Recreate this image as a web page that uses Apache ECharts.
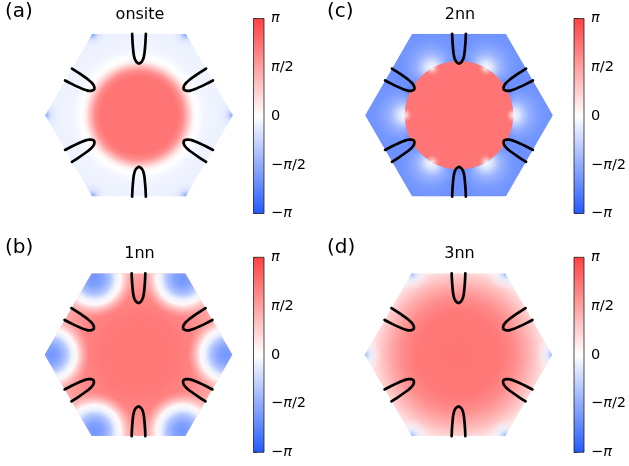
<!DOCTYPE html>
<html><head><meta charset="utf-8">
<script src="https://cdn.jsdelivr.net/npm/echarts@6/dist/echarts.min.js"></script>
<style>html,body{margin:0;padding:0;background:#fff}#c{width:629px;height:466px}</style>
</head><body><div id="c"></div>
<script>
// ================= DATA =================
const panelLabels = ['(a)', '(b)', '(c)', '(d)'];
const panelTitles = ['onsite', '1nn', '2nn', '3nn'];
const tickLabels = ['−π', '−π/2', '0', 'π/2', 'π'];
const tickValues = [-1, -0.5, 0, 0.5, 1];            // phase / π

// phase (units of π) vs distance from Γ (units of |ΓK|): [r, phase]
const radialOnsite = [[0, 0.73], [0.41, 0.72], [0.47, 0.60], [0.52, 0.34], [0.57, 0.08], [0.61, 0.0], [0.70, -0.06], [1.0, -0.10]];
const radial1nn    = [[0, 0.71], [0.40, 0.70], [0.60, 0.64], [0.80, 0.52], [0.90, 0.44], [1.0, 0.36]];
const radial2nn    = [[0, 0.72], [0.572, 0.72], [0.583, -0.84], [0.64, -0.72], [0.80, -0.67], [1.0, -0.65]];
const radial3nn    = [[0, 0.73], [0.45, 0.70], [0.60, 0.60], [0.72, 0.45], [0.82, 0.30], [0.90, 0.17], [1.0, 0.02]];

// phase near the K corners vs distance from the spot centre: [d, phase, opacity]
const cornerOnsite = [[0, -0.62, 1], [0.03, -0.38, 1], [0.07, -0.18, 0.8], [0.16, -0.10, 0]];
const corner1nn    = [[0, -0.64, 1], [0.09, -0.56, 1], [0.17, -0.36, 1], [0.23, -0.08, 1], [0.28, 0.03, 1], [0.34, 0.20, 0.6], [0.42, 0.40, 0]];
const corner3nn    = [[0, -0.52, 1], [0.025, -0.30, 1], [0.07, -0.12, 0.8], [0.18, -0.03, 0]];
const cornerShift  = [0, 0.06, 0, 0];                 // spot centre offset toward Γ

// 2nn: light rims of the central disk in the ΓK directions: [d, phase, opacity]
const rimRadius2nn = 0.577;
const rimOuter2nn = [[0, -0.02, 1], [0.07, -0.12, 0.9], [0.16, -0.30, 0.6], [0.30, -0.50, 0.25], [0.42, -0.60, 0]];
const rimInner2nn = [[0, 0.05, 1], [0.04, 0.35, 0.7], [0.09, 0.70, 0]];

// Fermi-surface pocket at each M point: depth from zone edge and half-width (units of |ΓK|)
const pocketDepth     = [0, 0.085, 0.160, 0.215, 0.250, 0.277, 0.296, 0.309, 0.316];
const pocketHalfWidth = [0.073, 0.069, 0.063, 0.057, 0.050, 0.041, 0.030, 0.016, 0];

// ================= LAYOUT =================
const R = 94;
const S3 = Math.sqrt(3) / 2;
const layout = [
  { cx: 139,   cy: 115.2, cbx: 253.5, cby: 18.5,  lx: 5,   ly: 13.5,  ty: 14.6 },
  { cx: 138.5, cy: 354.7, cbx: 253.5, cby: 257.3, lx: 5,   ly: 249.5, ty: 253.6 },
  { cx: 459,   cy: 115.2, cbx: 574,   cby: 18.5,  lx: 327, ly: 13.5,  ty: 14.6 },
  { cx: 458.5, cy: 354.7, cbx: 574,   cby: 257.3, lx: 327, ly: 249.5, ty: 253.6 }
];
const radials = [radialOnsite, radial1nn, radial2nn, radial3nn];
const corners = [cornerOnsite, corner1nn, null, corner3nn];

const cmapStops = [[-1, [35, 90, 255]], [0, [255, 255, 255]], [1, [255, 64, 64]]];
function cmap(v, a) {
  v = Math.max(-1, Math.min(1, v));
  const i = v < 0 ? 0 : 1;
  const [v0, c0] = cmapStops[i], [v1, c1] = cmapStops[i + 1];
  const t = (v - v0) / (v1 - v0);
  const c = c0.map((x, k) => Math.round(x + (c1[k] - x) * t));
  return 'rgba(' + c[0] + ',' + c[1] + ',' + c[2] + ',' + (a === undefined ? 1 : a) + ')';
}
function radialGrad(x, y, rpx, prof) {
  const maxR = prof[prof.length - 1][0];
  return {
    type: 'radial', x: x, y: y, r: rpx * maxR, global: true,
    colorStops: prof.map(s => ({ offset: s[0] / maxR, color: cmap(s[1], s[2]) }))
  };
}
const deg = Math.PI / 180;
const vertexAngles = [0, 60, 120, 180, 240, 300];
const mAngles = [90, 30, -30, -90, -150, 150];

function fieldRender(p) {
  return function (params, api) {
    const c = api.coord([0, 0]);
    const rpx = api.size([1, 0])[0];
    const children = [];
    const hex = vertexAngles.map(a => api.coord([Math.cos(a * deg), Math.sin(a * deg)]));
    children.push({ type: 'polygon', shape: { points: hex }, style: { fill: radialGrad(c[0], c[1], rpx, radials[p]) } });
    const cp = corners[p];
    if (cp) {
      const maxD = cp[cp.length - 1][0] + cornerShift[p];
      vertexAngles.forEach(a => {
        const v = api.coord([Math.cos(a * deg), Math.sin(a * deg)]);
        const s = 1 - cornerShift[p];
        const g = api.coord([s * Math.cos(a * deg), s * Math.sin(a * deg)]);
        const inward = -a * deg + Math.PI;
        children.push({
          type: 'sector',
          shape: { cx: v[0], cy: v[1], r0: 0, r: maxD * rpx, startAngle: inward - Math.PI / 3, endAngle: inward + Math.PI / 3, clockwise: true },
          style: { fill: radialGrad(g[0], g[1], rpx, cp) }
        });
      });
    }
    if (p === 2) {
      vertexAngles.forEach(a => {
        const g = api.coord([rimRadius2nn * Math.cos(a * deg), rimRadius2nn * Math.sin(a * deg)]);
        const sa = -a * deg;
        const iMax = rimInner2nn[rimInner2nn.length - 1][0];
        children.push({
          type: 'sector',
          shape: { cx: c[0], cy: c[1], r0: rimRadius2nn * rpx, r: 1.02 * rpx, startAngle: sa - 30 * deg, endAngle: sa + 30 * deg, clockwise: true },
          style: { fill: radialGrad(g[0], g[1], rpx, rimOuter2nn) }
        });
        children.push({
          type: 'sector',
          shape: { cx: c[0], cy: c[1], r0: (rimRadius2nn - iMax - 0.01) * rpx, r: rimRadius2nn * rpx, startAngle: sa - 18 * deg, endAngle: sa + 18 * deg, clockwise: true },
          style: { fill: radialGrad(g[0], g[1], rpx, rimInner2nn) }
        });
      });
    }
    return { type: 'group', children: children, clipPath: { type: 'polygon', shape: { points: hex } } };
  };
}

function pocketLine(thetaDeg) {
  const t = thetaDeg * deg;
  const n = [Math.cos(t), Math.sin(t)], l = [-Math.sin(t), Math.cos(t)];
  const pts = [];
  const side = (u, v) => [S3 * n[0] - u * n[0] + v * l[0], S3 * n[1] - u * n[1] + v * l[1]];
  for (let i = 0; i < pocketDepth.length; i++) pts.push(side(pocketDepth[i], -pocketHalfWidth[i]));
  for (let i = pocketDepth.length - 2; i >= 0; i--) pts.push(side(pocketDepth[i], pocketHalfWidth[i]));
  return pts;
}

const grids = [], xAxes = [], yAxes = [], series = [], graphics = [];
const FONT = 'DejaVu Sans';
layout.forEach((L, p) => {
  grids.push({ left: L.cx - R, top: L.cy - R * S3, width: 2 * R, height: 2 * R * S3 });
  xAxes.push({ gridIndex: 2 * p, type: 'value', min: -1, max: 1, show: false });
  yAxes.push({ gridIndex: 2 * p, type: 'value', min: -S3, max: S3, show: false });
  grids.push({ left: L.cbx, top: L.cby, width: 10.5, height: 195 });
  xAxes.push({ gridIndex: 2 * p + 1, type: 'value', min: 0, max: 1, show: false });
  yAxes.push({
    gridIndex: 2 * p + 1, type: 'value', min: -1, max: 1, interval: 0.5, position: 'right',
    axisLine: { show: false }, splitLine: { show: false },
    axisTick: { show: true, length: 3.5, lineStyle: { color: '#000', width: 0.8 } },
    axisLabel: {
      margin: 7, fontSize: 14.5, color: '#000', fontFamily: FONT,
      formatter: v => {
        const i = tickValues.indexOf(Math.round(v * 2) / 2);
        if (i < 0) return '';
        return tickLabels[i].replace(/π/g, '{i|π}').replace(/^([^{]+)/, '{n|$1}').replace(/\}([^{}]+)$/, '}{n|$1}');
      },
      rich: {
        i: { fontStyle: 'italic', fontSize: 14.5, fontFamily: FONT, color: '#000' },
        n: { fontSize: 14.5, fontFamily: FONT, color: '#000' }
      }
    }
  });
  series.push({
    type: 'custom', xAxisIndex: 2 * p, yAxisIndex: 2 * p, data: [[0, 0]],
    renderItem: fieldRender(p), silent: true, z: 1
  });
  series.push({
    type: 'custom', xAxisIndex: 2 * p + 1, yAxisIndex: 2 * p + 1, data: [[0, 0]], silent: true,
    renderItem: (params, api) => {
      const a = api.coord([0, 1]), b = api.coord([1, -1]);
      return {
        type: 'rect', shape: { x: a[0], y: a[1], width: b[0] - a[0], height: b[1] - a[1] },
        style: {
          fill: { type: 'linear', x: 0, y: 0, x2: 0, y2: 1, colorStops: cmapStops.map(s => ({ offset: (1 - s[0]) / 2, color: cmap(s[0]) })).reverse() },
          stroke: '#222', lineWidth: 0.8
        }
      };
    }
  });
  mAngles.forEach(th => {
    series.push({
      type: 'line', xAxisIndex: 2 * p, yAxisIndex: 2 * p, data: pocketLine(th),
      showSymbol: false, symbol: 'none', smooth: 0.3, clip: false, silent: true, z: 5,
      lineStyle: { color: '#000', width: 2.7, cap: 'round', join: 'round' }
    });
  });
  graphics.push({ type: 'text', left: L.lx, top: L.ly - 12, style: { text: panelLabels[p], fontSize: 20, fontFamily: FONT, fill: '#000' } });
  graphics.push({ type: 'text', x: L.cx + 1, y: L.ty, style: { text: panelTitles[p], fontSize: 16, fontFamily: FONT, fill: '#000', align: 'center', verticalAlign: 'middle' } });
});

const chart = echarts.init(document.getElementById('c'), null, { renderer: 'canvas' });
chart.setOption({
  animation: false, backgroundColor: '#fff',
  grid: grids, xAxis: xAxes, yAxis: yAxes, series: series, graphic: graphics
});
</script></body></html>
